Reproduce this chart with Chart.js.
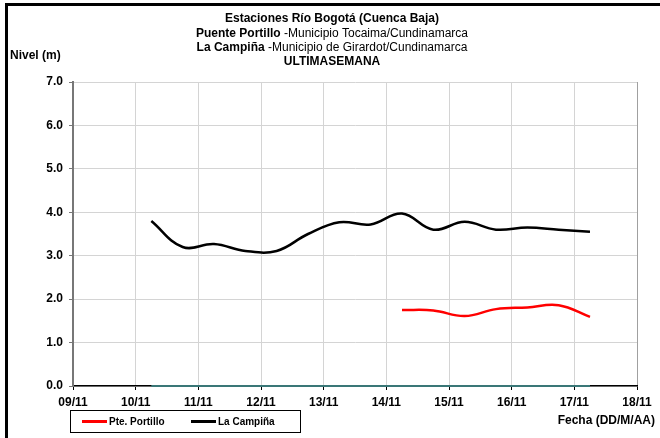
<!DOCTYPE html>
<html>
<head>
<meta charset="utf-8">
<script src="https://cdn.jsdelivr.net/npm/chart.js@4"></script>
<style>
html,body{margin:0;padding:0;background:#fff;}
#wrap{width:660px;height:438px;position:relative;}
</style>
</head>
<body>
<div id="wrap"><canvas id="c" width="660" height="438"></canvas></div>
<script>
// ---- Data (days in November, fractional) ----
const campinaDays   = [10.25, 10.75, 11.25, 11.75, 12.25, 12.75, 13.25, 13.75, 14.25, 14.75, 15.25, 15.75, 16.25, 16.75, 17.25];
const campinaLevels = [3.80, 3.20, 3.27, 3.11, 3.11, 3.50, 3.77, 3.72, 3.97, 3.60, 3.78, 3.60, 3.65, 3.60, 3.55];
const portilloDays   = [14.25, 14.75, 15.25, 15.75, 16.25, 16.75, 17.25];
const portilloLevels = [1.75, 1.74, 1.61, 1.77, 1.81, 1.86, 1.59];
const baseDays   = [10.25, 17.25];
const baseLevels = [0, 0];
const xTickDays = [9, 10, 11, 12, 13, 14, 15, 16, 17, 18];
const xTickLabels = ["09/11", "10/11", "11/11", "12/11", "13/11", "14/11", "15/11", "16/11", "17/11", "18/11"];
const yTicks = [0, 1, 2, 3, 4, 5, 6, 7];

const titleLines = [
  [["Estaciones Río Bogotá (Cuenca Baja)", true]],
  [["Puente Portillo", true], [" -Municipio Tocaima/Cundinamarca", false]],
  [["La Campiña", true], [" -Municipio de Girardot/Cundinamarca", false]],
  [["ULTIMASEMANA", true]]
];

const FONT = "'Liberation Sans', Arial, sans-serif";
const pts = (xs, ys) => xs.map((x, i) => ({x: x, y: ys[i]}));

const decor = {
  id: 'decor',
  beforeDraw(chart) {
    const ctx = chart.ctx;
    ctx.save();
    ctx.fillStyle = '#fff';
    ctx.fillRect(0, 0, chart.width, chart.height);
    ctx.restore();
  },
  afterDraw(chart) {
    const ctx = chart.ctx;
    ctx.save();
    // frame (left & top)
    ctx.strokeStyle = '#000';
    ctx.lineWidth = 3;
    ctx.beginPath();
    ctx.moveTo(6.5, 438);
    ctx.lineTo(6.5, 4.5);
    ctx.lineTo(660, 4.5);
    ctx.stroke();

    // title
    ctx.fillStyle = '#000';
    ctx.textBaseline = 'middle';
    const ys = [19, 34, 48, 62];
    titleLines.forEach((parts, i) => {
      let total = 0;
      parts.forEach(p => { ctx.font = (p[1] ? 'bold ' : '') + '12px ' + FONT; total += ctx.measureText(p[0]).width; });
      let x = 332 - total / 2;
      parts.forEach(p => {
        ctx.font = (p[1] ? 'bold ' : '') + '12px ' + FONT;
        ctx.textAlign = 'left';
        ctx.fillText(p[0], x, ys[i]);
        x += ctx.measureText(p[0]).width;
      });
    });

    // axis titles
    ctx.font = 'bold 12px ' + FONT;
    ctx.textAlign = 'left';
    ctx.fillText('Nivel (m)', 10, 56);
    ctx.textAlign = 'right';
    ctx.fillText('Fecha (DD/M/AA)', 655, 421);

    // legend box
    ctx.strokeStyle = '#000';
    ctx.lineWidth = 1;
    ctx.strokeRect(70.5, 410.5, 230, 22);
    const items = chart.data.datasets.filter(d => d.inLegend);
    const lx = [80, 189];
    ctx.font = 'bold 10px ' + FONT;
    ctx.textAlign = 'left';
    items.forEach((d, i) => {
      ctx.strokeStyle = d.borderColor;
      ctx.lineWidth = 3;
      ctx.beginPath();
      ctx.moveTo(lx[i] + 2, 421.5);
      ctx.lineTo(lx[i] + 27, 421.5);
      ctx.stroke();
      ctx.fillStyle = '#000';
      ctx.fillText(d.label, lx[i] + 29, 422);
    });
    ctx.restore();
  }
};

new Chart(document.getElementById('c'), {
  type: 'line',
  data: {
    datasets: [
      { label: 'Pte. Portillo', data: pts(portilloDays, portilloLevels), borderColor: '#ff0000', borderWidth: 2.5, tension: 0.4, pointRadius: 0, fill: false, inLegend: true },
      { label: 'La Campiña', data: pts(campinaDays, campinaLevels), borderColor: '#000000', borderWidth: 2.5, tension: 0.4, pointRadius: 0, fill: false, inLegend: true },
      { label: 'Base', data: pts(baseDays, baseLevels), borderColor: '#3a7777', borderWidth: 2, tension: 0, pointRadius: 0, fill: false, clip: false, inLegend: false }
    ]
  },
  options: {
    responsive: false,
    animation: false,
    events: [],
    layout: { padding: { top: 82, right: 23, left: 0, bottom: 0 } },
    plugins: { legend: { display: false }, title: { display: false }, tooltip: { enabled: false } },
    scales: {
      x: {
        type: 'linear', min: 9, max: 18,
        afterBuildTicks(axis) { axis.ticks = xTickDays.map(v => ({value: v})); },
        afterFit(axis) { axis.height = 52; },
        ticks: {
          autoSkip: false, maxRotation: 0, color: '#000', padding: 5,
          font: { family: FONT, size: 12, weight: 'bold' },
          callback: (v) => { const i = xTickDays.indexOf(v); return i >= 0 ? xTickLabels[i] : ''; }
        },
        grid: { color: (c) => c.index === xTickDays.length - 1 ? '#a0a0a0' : '#d4d4d4', lineWidth: 1, tickLength: 4, tickColor: '#000' },
        border: { color: '#000', width: 1.5 }
      },
      y: {
        min: 0, max: 7,
        afterBuildTicks(axis) { axis.ticks = yTicks.map(v => ({value: v})); },
        afterFit(axis) { axis.width = 73; },
        ticks: {
          color: '#000', padding: 6,
          font: { family: FONT, size: 12, weight: 'bold' },
          callback: (v) => Number(v).toFixed(1)
        },
        grid: { color: '#d4d4d4', lineWidth: 1, tickLength: 4, tickColor: '#777' },
        border: { color: '#777', width: 2 }
      }
    }
  },
  plugins: [decor]
});
</script>
</body>
</html>
